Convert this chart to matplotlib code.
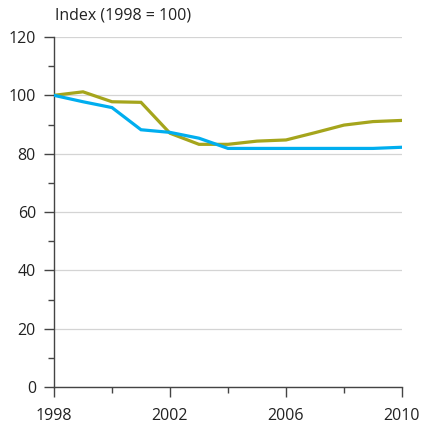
import matplotlib
matplotlib.use("Agg")
import matplotlib.pyplot as plt
from matplotlib.ticker import MultipleLocator

years = list(range(1998, 2011))
olive = [100, 101.2, 97.8, 97.6, 87.0, 83.2, 83.2, 84.3, 84.7, 87.2, 89.8, 91.0, 91.4]
blue = [100, 97.8, 95.8, 88.2, 87.3, 85.3, 81.8, 81.8, 81.8, 81.8, 81.8, 81.8, 82.2]
x_ticks = [1998, 2002, 2006, 2010]
y_ticks = [0, 20, 40, 60, 80, 100, 120]
title = "Index (1998 = 100)"

plt.rcParams['font.family'] = ['Open Sans', 'DejaVu Sans']

fig = plt.figure(figsize=(4.22, 4.28), dpi=100)
ax = fig.add_axes([54/422, 1-387/428, 348/422, 350/428])

ax.plot(years, olive, color='#a5a51c', lw=2.3, solid_joinstyle='miter', zorder=3)
ax.plot(years, blue, color='#00aeef', lw=2.3, solid_joinstyle='miter', zorder=3)

ax.set_xlim(1998, 2010)
ax.set_ylim(0, 120)
ax.set_xticks(x_ticks)
ax.set_yticks(y_ticks)
ax.xaxis.set_minor_locator(MultipleLocator(2))
ax.yaxis.set_minor_locator(MultipleLocator(10))
ax.grid(axis='y', which='major', color='#d4d4d4', lw=0.9, zorder=0)
for s in ['top', 'right']:
    ax.spines[s].set_visible(False)
for s in ['left', 'bottom']:
    ax.spines[s].set_color('#444444')
    ax.spines[s].set_linewidth(1.0)
ax.tick_params(which='major', length=7, width=1, color='#444444', labelsize=11.5, labelcolor='#222222')
ax.tick_params(which='minor', length=4, width=1, color='#444444')
ax.tick_params(axis='x', pad=8)
ax.tick_params(axis='y', pad=6)
ax.set_axisbelow(True)

fig.text(55/422, 1-16/428, title, fontsize=11.5, color='#222222', va='center', ha='left')

fig.savefig('out.png', dpi=100)
